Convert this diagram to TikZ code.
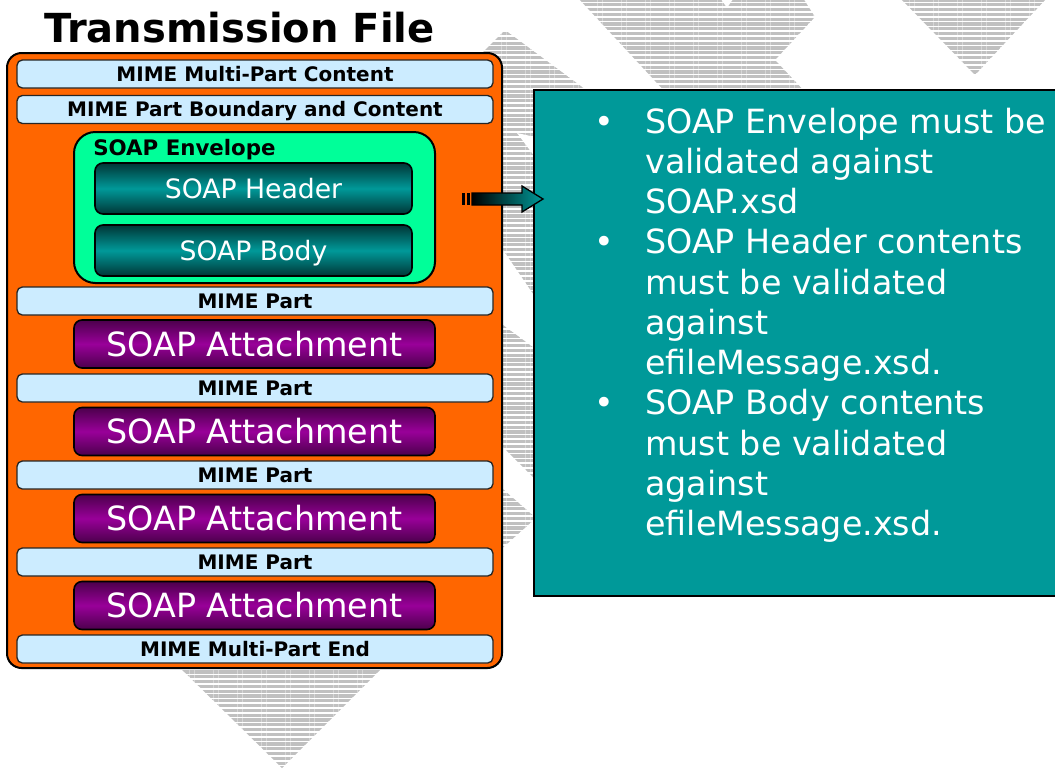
\documentclass[tikz,border=0pt]{standalone}
\usepackage{fontspec}
\setmainfont{DejaVu Sans}
\usetikzlibrary{patterns.meta}

\definecolor{fileorange}{HTML}{FF6600}
\definecolor{mimeblue}{HTML}{CCECFF}
\definecolor{envgreen}{HTML}{00FF99}
\definecolor{soapteal}{HTML}{009999}
\definecolor{soapdark}{HTML}{003636}
\definecolor{attpurple}{HTML}{990099}
\definecolor{attdark}{HTML}{4C004C}
\definecolor{stripegrey}{HTML}{C0C0C0}

\tikzset{
  bgstripes/.style={pattern={Lines[angle=0,distance=3.6pt,line width=2.5pt]},pattern color=stripegrey},
  mimebar/.style={draw=black!85,line width=1pt,rounded corners=4pt,fill=mimeblue,
    minimum width=357pt,minimum height=21pt,inner sep=0pt,
    font=\fontsize{15}{18}\selectfont\bfseries,text height=11pt,text depth=0pt},
  soapbox/.style={draw=black,line width=1.2pt,rounded corners=6pt,
    top color=soapdark,bottom color=soapdark,middle color=soapteal,
    minimum width=237.75pt,minimum height=38.25pt,inner sep=0pt,text=white,
    font=\fontsize{20}{24}\selectfont,text height=14.6pt,text depth=0pt},
  attbox/.style={draw=black,line width=1.2pt,rounded corners=6pt,
    top color=attdark,bottom color=attdark,middle color=attpurple,
    minimum width=270.75pt,minimum height=36pt,inner sep=0pt,text=white,
    font=\fontsize{25}{30}\selectfont,text height=18.2pt,text depth=0pt}
}

\begin{document}
\begin{tikzpicture}[x=0.75pt,y=-0.75pt]
\clip (0,0) rectangle (1055,768);
% striped chevrons behind
\fill[bgstripes] (505,30) -- (620,115) -- (620,304) -- (540,304) -- (480,216) -- (480,55) -- cycle;
\fill[white] (517,133) -- (535,137) -- (535,157) -- cycle;
\fill[bgstripes] (480,308) -- (545,356) -- (545,489) -- (480,424) -- cycle;
\fill[bgstripes] (480,469) -- (536,518) -- (480,568) -- cycle;
\fill[bgstripes] (170,658) -- (392,658) -- (282,768) -- cycle;
\fill[bgstripes] (578,-2) -- (720,-2) -- (727,8) -- (734,-2) -- (803,-2) -- (815,17) -- (775,60) -- (808,95) -- (668,95) -- cycle;
\fill[bgstripes] (900,-2) -- (1047,-2) -- (975,75) -- cycle;

\node[anchor=base west,inner sep=0pt,font=\fontsize{30}{36}\selectfont\bfseries] (title) at (44,42) {Transmission File};

% the file
\draw[fill=fileorange,line width=1.5pt,rounded corners=11pt] (7,53) rectangle (502,668);
\node[mimebar] (mpcontent) at (255,74) {MIME Multi-Part Content};
\node[mimebar] (mpboundary) at (255,109.5) {MIME Part Boundary and Content};

\draw[fill=envgreen,line width=1.5pt,rounded corners=16pt] (74,132) rectangle (435,283);
\node[anchor=base west,inner sep=0pt,font=\fontsize{16}{19}\selectfont\bfseries] (envlabel) at (93,155) {SOAP Envelope};
\node[soapbox] (header) at (253.5,188.5) {SOAP Header};
\node[soapbox] (body) at (253.5,250.5) {SOAP Body};

\node[mimebar] (part1) at (255,301) {MIME Part};
\node[attbox] (att1) at (254.5,344) {SOAP Attachment};
\node[mimebar] (part2) at (255,388) {MIME Part};
\node[attbox] (att2) at (254.5,431.5) {SOAP Attachment};
\node[mimebar] (part3) at (255,475) {MIME Part};
\node[attbox] (att3) at (254.5,518.5) {SOAP Attachment};
\node[mimebar] (part4) at (255,562) {MIME Part};
\node[attbox] (att4) at (254.5,605.5) {SOAP Attachment};
\node[mimebar] (mpend) at (255,649) {MIME Multi-Part End};

% validation notes
\draw[fill=soapteal,line width=2.2pt] (534,90) rectangle (1070,596);
\node[anchor=base west,inner sep=0pt,text=white,font=\fontsize{25}{30.2}\selectfont] (notes) at (594,133) {%
\begin{tabular}[t]{@{}p{38.25pt}@{}l@{}}
\textbullet & SOAP Envelope must be\\
 & validated against\\
 & SOAP.xsd\\
\textbullet & SOAP Header contents\\
 & must be validated\\
 & against\\
 & efileMessage.xsd.\\
\textbullet & SOAP Body contents\\
 & must be validated\\
 & against\\
 & efileMessage.xsd.
\end{tabular}};

% arrow
\coordinate (arrtail) at (472,199);
\coordinate (arrtip) at (543,199);
\fill[black] (462,193) rectangle (465,205);
\fill[black] (467,193) rectangle (470,205);
\shade[left color=black,right color=soapteal,draw=black,line width=1pt] (arrtail) ++(0,-6) -- ++(50,0) -- ++(0,-7) -- (arrtip) -- ++(-21,13) -- ++(0,-7) -- ++(-50,0) -- cycle;
\end{tikzpicture}
\end{document}
